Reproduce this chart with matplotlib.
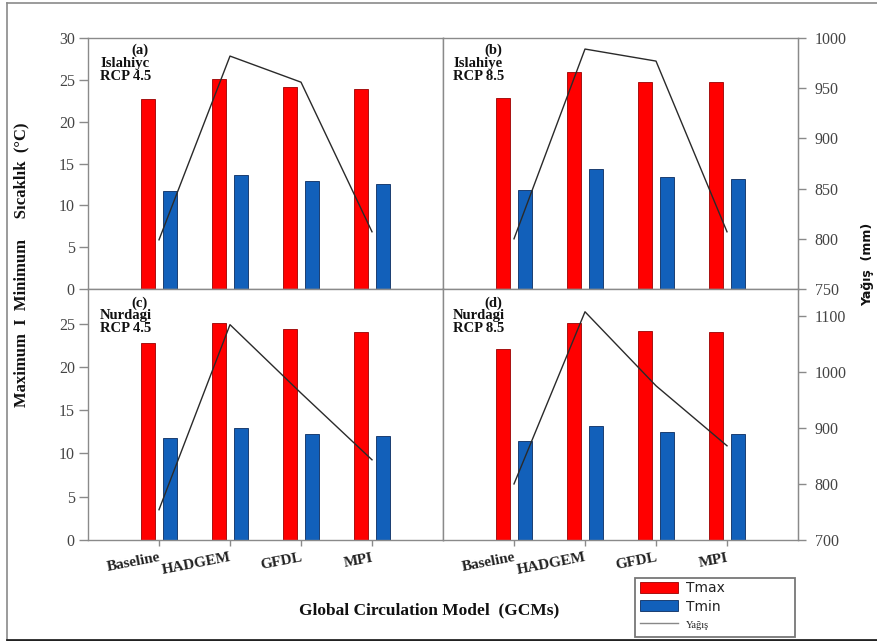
import matplotlib
matplotlib.use("Agg")
import matplotlib.pyplot as plt
import numpy as np
from matplotlib.patches import Patch, Rectangle
from matplotlib.lines import Line2D

# ---------------- data ----------------
models = ["Baseline", "HADGEM", "GFDL", "MPI"]

tmax_a = [22.7, 25.1, 24.1, 23.9]
tmin_a = [11.7, 13.6, 12.95, 12.6]
rain_a = [799, 982, 956, 807]

tmax_b = [22.8, 25.9, 24.7, 24.7]
tmin_b = [11.8, 14.4, 13.4, 13.2]
rain_b = [800, 989, 977, 807]

tmax_c = [22.8, 25.1, 24.4, 24.0]
tmin_c = [11.8, 12.95, 12.3, 12.0]
rain_c = [754, 1084, 962, 843]

tmax_d = [22.1, 25.1, 24.15, 24.0]
tmin_d = [11.4, 13.2, 12.45, 12.25]
rain_d = [800, 1107, 975, 868]

labels = [("(a)", "Islahiyc", "RCP 4.5"),
          ("(b)", "Islahiye", "RCP 8.5"),
          ("(c)", "Nurdagi", "RCP 4.5"),
          ("(d)", "Nurdagi", "RCP 8.5")]

left_ticks_top = [0, 5, 10, 15, 20, 25, 30]
left_ticks_bot = [0, 5, 10, 15, 20, 25]
right_ticks_top = [750, 800, 850, 900, 950, 1000]
right_ticks_bot = [700, 800, 900, 1000, 1100]

# ---------------- style ----------------
W, H = 878, 641
RED = "#FF0000"
RED_E = "#9a0000"
BLUE = "#1260BA"
BLUE_E = "#0a2c60"
SPINE = "#8a8a8a"
TICKC = "#444444"
SERIF = ["Liberation Serif", "DejaVu Serif"]

fig = plt.figure(figsize=(W / 100, H / 100), dpi=100)


def fx(px):
    return px / W


def fy(py):
    return 1 - py / H


def make_axes(x0, x1, y0, y1):
    return fig.add_axes([fx(x0), fy(y1), fx(x1) - fx(x0), (y1 - y0) / H])


x = np.arange(len(models))
bw = 0.2
off = 0.15

panels = [
    (88, 443, 38, 289, tmax_a, tmin_a, rain_a, (0, 30), (750, 1000), "TL"),
    (443, 798, 38, 289, tmax_b, tmin_b, rain_b, (0, 30), (750, 1000), "TR"),
    (88, 443, 289, 540, tmax_c, tmin_c, rain_c, (0, 29), (700, 1147.6), "BL"),
    (443, 798, 289, 540, tmax_d, tmin_d, rain_d, (0, 29), (700, 1147.6), "BR"),
]

for i, (x0, x1, y0, y1, tmx, tmn, rn, yl, yr, pos) in enumerate(panels):
    ax = make_axes(x0, x1, y0, y1)
    ax.bar(x - off, tmx, width=bw, color=RED, edgecolor=RED_E, linewidth=0.6, zorder=2)
    ax.bar(x + off, tmn, width=bw, color=BLUE, edgecolor=BLUE_E, linewidth=0.6, zorder=2)
    ax.set_xlim(-1.0, 4.0)
    ax.set_ylim(*yl)
    for s in ax.spines.values():
        s.set_color(SPINE)
        s.set_linewidth(1.0)
    ax.tick_params(axis="both", colors=SPINE, labelcolor=TICKC)
    if pos in ("TL", "BL"):
        ax.set_yticks(left_ticks_top if pos == "TL" else left_ticks_bot)
        ax.tick_params(axis="y", direction="out", length=6.5, width=1.0, pad=3,
                       labelsize=11.5)
        for t in ax.get_yticklabels():
            t.set_fontfamily(SERIF)
    else:
        ax.set_yticks([])
    if pos in ("BL", "BR"):
        ax.set_xticks(x)
        ax.set_xticklabels(models, rotation=11, ha="right", rotation_mode="anchor",
                           fontfamily=SERIF, fontweight="bold", fontsize=11,
                           color="#222222")
        ax.tick_params(axis="x", direction="out", length=4, width=1.0, pad=4)
    else:
        ax.set_xticks([])

    ax2 = ax.twinx()
    ax2.plot(x, rn, color="#2a2a2a", linewidth=1.0, zorder=3)
    ax2.set_ylim(*yr)
    ax2.set_xlim(-1.0, 4.0)
    for s in ax2.spines.values():
        s.set_visible(False)
    if pos in ("TR", "BR"):
        ax2.spines["right"].set_visible(True)
        ax2.spines["right"].set_color(SPINE)
        ax2.set_yticks(right_ticks_top if pos == "TR" else right_ticks_bot)
        ax2.tick_params(axis="y", direction="out", length=6, width=1.0, pad=6,
                        labelsize=11.5, colors=SPINE, labelcolor=TICKC)
        for t in ax2.get_yticklabels():
            t.set_fontfamily(SERIF)
    else:
        ax2.set_yticks([])

    # panel annotation
    lab, site, rcp = labels[i]
    h = y1 - y0
    if pos in ("TL", "BL"):
        cx, lx = 140 - x0, 100 - x0
    else:
        cx, lx = 493 - x0, 453 - x0
    if pos in ("TL", "TR"):
        ys = [50, 63, 76]
    else:
        ys = [303, 316, 328]
    tk = dict(transform=ax.transAxes, fontfamily=SERIF, fontweight="bold",
              fontsize=10.5, color="#111111", va="center", zorder=5)
    ax.text(cx / (x1 - x0), (y1 - ys[0]) / h, lab, ha="center", **tk)
    ax.text(lx / (x1 - x0), (y1 - ys[1]) / h, site, ha="left", **tk)
    ax.text(lx / (x1 - x0), (y1 - ys[2]) / h, rcp, ha="left", **tk)

# axis labels
fig.text(fx(21), fy(265), "Maximum  I  Minimum     Sıcaklık  (°C)", rotation=90,
         ha="center", va="center", fontfamily=SERIF, fontweight="bold",
         fontsize=12, color="#111111")
fig.text(fx(868), fy(264), "Yağış  (mm)", rotation=90, ha="center", va="center",
         fontfamily=["DejaVu Sans"], fontweight="bold", fontsize=9, color="#111111")
fig.text(fx(429), fy(610), "Global Circulation Model  (GCMs)", ha="center",
         va="center", fontfamily=SERIF, fontweight="bold", fontsize=12.5,
         color="#111111")

# legend
fig.patches.append(Rectangle((fx(635), fy(637)), fx(795) - fx(635), (637 - 578) / H,
                             transform=fig.transFigure, fill=False,
                             edgecolor="#777777", linewidth=1.3))
handles = [Patch(facecolor=RED, edgecolor=RED_E, linewidth=0.6),
           Patch(facecolor=BLUE, edgecolor=BLUE_E, linewidth=0.6),
           Line2D([], [], color="#888888", linewidth=1.0)]
leg = fig.legend(handles, ["Tmax", "Tmin", "Yağış"], loc="upper left",
                 bbox_to_anchor=(fx(639), fy(580)), frameon=False, fontsize=10,
                 handlelength=2.7, handleheight=0.8, labelspacing=0.3,
                 handletextpad=0.55, borderpad=0.1, borderaxespad=0)
for t in leg.get_texts():
    t.set_color("#222222")
leg.get_texts()[2].set_fontfamily(SERIF)
leg.get_texts()[2].set_fontsize(7.5)

# outer frame
fig.add_artist(Line2D([fx(7), fx(7)], [fy(3), fy(639)], transform=fig.transFigure,
                      color="#8a8a8a", linewidth=1.2))
fig.add_artist(Line2D([fx(7), 1.0], [fy(3), fy(3)], transform=fig.transFigure,
                      color="#8a8a8a", linewidth=1.2))
fig.add_artist(Line2D([fx(7), 1.0], [fy(639.5), fy(639.5)], transform=fig.transFigure,
                      color="#222222", linewidth=2.0))

fig.savefig("out.png", dpi=100)
